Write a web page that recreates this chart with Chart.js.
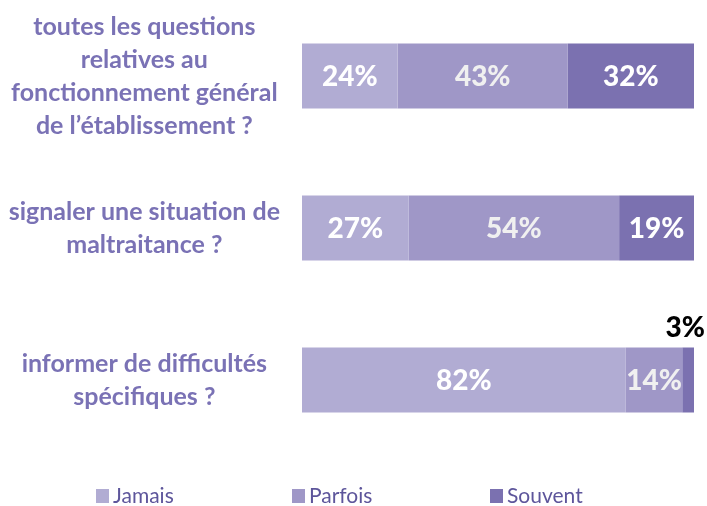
<!DOCTYPE html>
<html>
<head>
<meta charset="utf-8">
<script src="https://cdn.jsdelivr.net/npm/chart.js@4"></script>
<style>
  html, body { margin: 0; padding: 0; background: #ffffff; }
  #wrap { width: 707px; height: 506px; position: relative; }
</style>
</head>
<body>
<div id="wrap"><canvas id="c"></canvas></div>
<script>
// ---- data ----
const categories = [
  ["toutes les questions", "relatives au", "fonctionnement général", "de l’établissement ?"],
  ["signaler une situation de", "maltraitance ?"],
  ["informer de difficultés", "spécifiques ?"]
];
const seriesNames = ["Jamais", "Parfois", "Souvent"];
const jamais  = [24.4, 27.2, 82.6];
const parfois = [43.4, 53.7, 14.4];
const souvent = [32.2, 19.1, 3.1];
const jamaisLabels  = ["24%", "27%", "82%"];
const parfoisLabels = ["43%", "54%", "14%"];
const souventLabels = ["32%", "19%", "3%"];

const colors = ["#b1acd3", "#9f97c7", "#7b71b0"];
const labelColors = ["#ffffff", "#f0f0f0", "#ffffff"];

const valueLabelPlugin = {
  id: 'valueLabels',
  afterDatasetsDraw(chart) {
    const ctx = chart.ctx;
    const allLabels = [jamaisLabels, parfoisLabels, souventLabels];
    ctx.save();
    ctx.font = "900 28px Lato";
    ctx.textAlign = "center";
    ctx.textBaseline = "middle";
    chart.data.datasets.forEach((ds, di) => {
      const meta = chart.getDatasetMeta(di);
      meta.data.forEach((el, i) => {
        const txt = allLabels[di][i];
        const left = Math.min(el.x, el.base);
        const right = Math.max(el.x, el.base);
        const w = right - left;
        const cx = (left + right) / 2;
        if (w < 30) {
          ctx.fillStyle = "#000000";
          ctx.fillText(txt, cx - 3, el.y - el.height / 2 - 20);
        } else {
          ctx.fillStyle = labelColors[di];
          ctx.fillText(txt, cx, el.y + 1);
        }
      });
    });
    ctx.restore();
  }
};

const legendPlugin = {
  id: 'customLegend',
  afterDraw(chart) {
    const ctx = chart.ctx;
    const starts = [96, 292, 490];
    const y = 496;
    ctx.save();
    ctx.font = "21px Lato";
    ctx.textBaseline = "middle";
    ctx.textAlign = "left";
    chart.data.datasets.forEach((ds, i) => {
      ctx.fillStyle = ds.backgroundColor;
      ctx.fillRect(starts[i], y - 7, 13, 14);
      ctx.fillStyle = "#5d559b";
      ctx.fillText(ds.label, starts[i] + 17, y);
    });
    ctx.restore();
  }
};

new Chart(document.getElementById('c'), {
  type: 'bar',
  data: {
    labels: categories,
    datasets: [
      { label: seriesNames[0], data: jamais,  backgroundColor: colors[0] },
      { label: seriesNames[1], data: parfois, backgroundColor: colors[1] },
      { label: seriesNames[2], data: souvent, backgroundColor: colors[2] }
    ]
  },
  options: {
    indexAxis: 'y',
    responsive: true,
    maintainAspectRatio: false,
    animation: false,
    layout: { padding: { top: -1, bottom: 50, left: 0, right: 13 } },
    datasets: { bar: { barPercentage: 0.428, categoryPercentage: 1.0, borderWidth: 0 } },
    scales: {
      x: { stacked: true, min: 0, max: 100, display: false },
      y: {
        stacked: true,
        grid: { display: false, drawTicks: false },
        border: { display: false },
        afterFit(scale) {
          scale.width = 302;
          scale.paddingTop = 0;
          scale.paddingBottom = 0;
        },
        ticks: {
          crossAlign: 'center',
          padding: 22,
          color: "#7a72b5",
          font: { family: "Lato", size: 25, weight: "bold", lineHeight: 1.32 }
        }
      }
    },
    plugins: {
      legend: { display: false },
      tooltip: { enabled: false }
    }
  },
  plugins: [valueLabelPlugin, legendPlugin]
});
</script>
</body>
</html>
